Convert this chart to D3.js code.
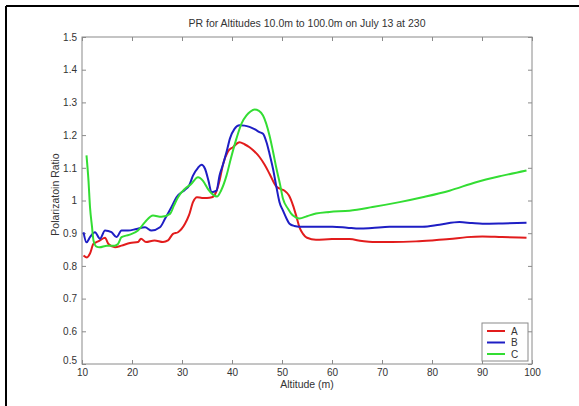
<!DOCTYPE html>
<html><head>
<meta charset="utf-8">
<title>PR for Altitudes</title>
<script src="https://d3js.org/d3.v7.min.js"></script>
<style>
  body { margin: 0; background: white; }
  text { font-family: "Liberation Sans", Arial, sans-serif; fill: #333; }
</style>
</head>
<body>
<svg id="chart" width="579" height="406"></svg>

<script>
  // values
  let altA = [10.3,11.0,11.6,12.3,12.8,13.6,14.6,15.3,16.6,17.9,19.6,21.2,21.8,22.8,24.5,26.2,27.2,28.2,29.2,30.6,31.4,32.2,33.0,34.0,35.0,36.0,36.8,37.5,38.2,39.2,40.2,41.5,42.5,43.5,44.5,45.5,46.5,47.5,48.9,49.8,50.5,51.4,52.2,52.9,53.5,54.2,55.0,56.8,60,63.5,66,68.1,72,76.8,80,83.5,87,90.1,94,98.9];
  let prA  = [0.832,0.826,0.838,0.868,0.872,0.878,0.886,0.867,0.857,0.862,0.870,0.873,0.883,0.873,0.878,0.873,0.878,0.898,0.903,0.929,0.955,0.995,1.010,1.008,1.008,1.010,1.025,1.060,1.110,1.150,1.163,1.178,1.172,1.163,1.150,1.133,1.110,1.082,1.042,1.035,1.030,1.015,0.985,0.950,0.918,0.898,0.886,0.880,0.882,0.882,0.876,0.873,0.873,0.875,0.878,0.882,0.888,0.890,0.888,0.886];

  let altB = [10.3,10.9,11.6,12.6,13.6,14.6,15.9,16.9,17.9,19.2,20.9,22.6,23.9,25.6,26.6,27.9,28.9,30.6,31.4,32.2,33.2,33.9,34.6,35.3,35.9,36.9,37.5,38.2,38.9,39.6,40.5,41.5,42.5,43.5,44.5,45.5,46.2,46.9,47.5,48.2,48.9,49.5,50.2,50.9,51.5,52.5,53.5,57,60.1,63,65.5,68,71.5,75,78.1,81.5,85.5,88,90.1,94.1,98.9];
  let prB  = [0.903,0.872,0.888,0.903,0.883,0.908,0.903,0.888,0.908,0.908,0.913,0.918,0.908,0.918,0.944,0.980,1.010,1.033,1.045,1.076,1.100,1.109,1.097,1.060,1.025,1.030,1.076,1.110,1.148,1.190,1.219,1.230,1.229,1.225,1.218,1.209,1.204,1.178,1.143,1.097,1.040,0.995,0.969,0.945,0.929,0.922,0.920,0.920,0.920,0.917,0.914,0.916,0.920,0.920,0.920,0.926,0.934,0.931,0.929,0.930,0.932];

  let altC = [10.9,11.3,11.6,12.0,12.3,12.9,13.5,15,16.5,17.2,17.9,19.4,21.2,22.6,24.2,25.9,27.6,28.4,29.2,30.6,31.8,33.2,34.2,35.2,36.2,37.0,37.8,38.9,39.8,40.9,41.9,42.9,43.7,44.5,45.4,46.2,47.5,48.2,48.9,49.6,50.2,51.2,52.2,53.5,55,56.8,59.5,63.5,68.1,73.5,78.1,83.5,88.8,94.1,98.9];
  let prC  = [1.138,1.060,0.980,0.920,0.878,0.859,0.857,0.862,0.862,0.867,0.888,0.895,0.908,0.934,0.954,0.950,0.959,0.985,1.010,1.036,1.050,1.071,1.060,1.035,1.018,1.012,1.030,1.076,1.130,1.190,1.235,1.260,1.272,1.278,1.274,1.260,1.199,1.150,1.097,1.050,1.005,0.975,0.954,0.945,0.952,0.960,0.965,0.969,0.980,0.995,1.010,1.030,1.056,1.076,1.092];

  let seriesNames = ["A", "B", "C"];
  let seriesColors = ["#e21c1c", "#1e1ec4", "#33dd33"];
  let xTicks = [10, 20, 30, 40, 50, 60, 70, 80, 90, 100];
  let yTicks = [0.5, 0.6, 0.7, 0.8, 0.9, 1, 1.1, 1.2, 1.3, 1.4, 1.5];

  let svg = d3.select("#chart");

  // figure frame (top and left edges show in the picture)
  svg.append("line").attr("x1", 6).attr("y1", 6).attr("x2", 579).attr("y2", 6)
      .style("stroke", "black").style("stroke-width", 2);
  svg.append("line").attr("x1", 6).attr("y1", 6).attr("x2", 6).attr("y2", 406)
      .style("stroke", "black").style("stroke-width", 2);

  let pLeft = 82, pRight = 532, pTop = 37, pBottom = 364;

  let x = d3.scaleLinear().domain([10, 100]).range([pLeft, pRight]);
  let y = d3.scaleLinear().domain([0.5, 1.5]).range([pBottom, pTop]);

  // box
  svg.append("rect")
      .attr("x", pLeft).attr("y", pTop)
      .attr("width", pRight - pLeft).attr("height", pBottom - pTop)
      .style("fill", "white").style("stroke", "#8a8a8a").style("stroke-width", 1);

  // axes, ticks pointing inward
  let axB = svg.append("g").attr("transform", "translate(0," + pBottom + ")")
      .call(d3.axisBottom(x).tickValues(xTicks).tickSizeInner(-4).tickSizeOuter(0).tickPadding(3));
  let axT = svg.append("g").attr("transform", "translate(0," + pTop + ")")
      .call(d3.axisTop(x).tickValues(xTicks).tickSizeInner(-4).tickSizeOuter(0).tickFormat(""));
  let axL = svg.append("g").attr("transform", "translate(" + pLeft + ",0)")
      .call(d3.axisLeft(y).tickValues(yTicks).tickSizeInner(-4).tickSizeOuter(0).tickPadding(5).tickFormat(d3.format("")));
  let axR = svg.append("g").attr("transform", "translate(" + pRight + ",0)")
      .call(d3.axisRight(y).tickValues(yTicks).tickSizeInner(-4).tickSizeOuter(0).tickFormat(""));

  [axB, axT, axL, axR].forEach(function(g) {
    g.select(".domain").remove();
    g.selectAll("line").style("stroke", "#8a8a8a");
    g.selectAll("text").style("font-size", "10px").style("fill", "#333")
        .style("font-family", "'Liberation Sans', Arial, sans-serif");
  });
  axB.selectAll("text").attr("dy", "0.85em");
  // MATLAB nudges the corner labels apart
  axL.selectAll("text").filter(d => d === 0.5).attr("dy", "-0.05em");

  // lines
  let line = d3.line()
      .x(d => x(d[0]))
      .y(d => y(d[1]))
      .curve(d3.curveMonotoneX);

  let allSeries = [d3.zip(altA, prA), d3.zip(altB, prB), d3.zip(altC, prC)];
  allSeries.forEach(function(pts, i) {
    svg.append("path")
        .datum(pts)
        .attr("d", line)
        .style("fill", "none")
        .style("stroke", seriesColors[i])
        .style("stroke-width", 2)
        .style("stroke-linejoin", "round");
  });

  // title and axis labels
  svg.append("text").attr("x", (pLeft + pRight) / 2).attr("y", 27)
      .attr("text-anchor", "middle").style("font-size", "10.5px")
      .text("PR for Altitudes 10.0m to 100.0m on July 13 at 230");
  svg.append("text").attr("x", (pLeft + pRight) / 2).attr("y", 388)
      .attr("text-anchor", "middle").style("font-size", "10.5px")
      .text("Altitude (m)");
  svg.append("text")
      .attr("transform", "translate(59," + ((pTop + pBottom) / 2 - 6) + ") rotate(-90)")
      .attr("text-anchor", "middle").style("font-size", "10.5px")
      .text("Polarizatoin Ratio");

  // legend
  let lg = svg.append("g").attr("transform", "translate(482,323)");
  lg.append("rect").attr("width", 46).attr("height", 38)
      .style("fill", "white").style("stroke", "#8a8a8a").style("stroke-width", 1);
  seriesNames.forEach(function(name, i) {
    let yy = 8 + i * 11.5;
    lg.append("line").attr("x1", 5).attr("x2", 23).attr("y1", yy).attr("y2", yy)
        .style("stroke", seriesColors[i]).style("stroke-width", 2);
    lg.append("text").attr("x", 29).attr("y", yy + 3.5).style("font-size", "10px").text(name);
  });
</script>
</body>
</html>
